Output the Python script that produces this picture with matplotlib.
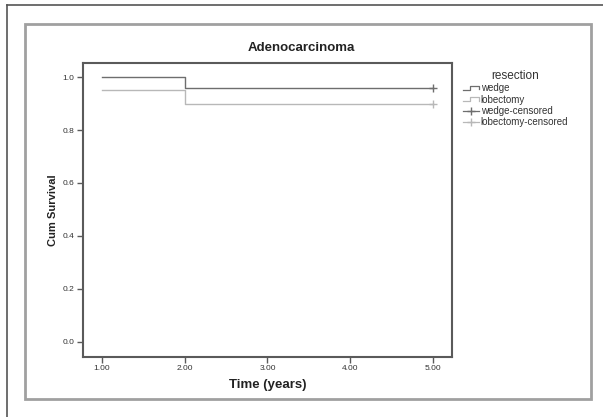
import matplotlib
matplotlib.use('Agg')
import matplotlib.pyplot as plt
from matplotlib.lines import Line2D
from matplotlib.patches import Rectangle
from matplotlib.legend_handler import HandlerBase

plt.rcParams['font.family'] = ['Liberation Sans', 'DejaVu Sans']

# Kaplan-Meier curves
times = [1.0, 2.0, 5.0]
wedge_surv = [1.0, 0.96, 0.96]
lobectomy_surv = [0.95, 0.90, 0.90]
censor_time = 5.0
wedge_censor = 0.96
lobectomy_censor = 0.90

xticks = [1, 2, 3, 4, 5]
xticklabels = ['1.00', '2.00', '3.00', '4.00', '5.00']
yticks = [0.0, 0.2, 0.4, 0.6, 0.8, 1.0]
yticklabels = ['0.0', '0.2', '0.4', '0.6', '0.8', '1.0']

c_wedge = '#6e6e6e'
c_lob = '#b8b8b8'
c_axis = '#5a5a5a'


class StepHandler(HandlerBase):
    # legend key shaped like a little survival step
    def create_artists(self, legend, orig_handle, xd, yd, width, height, fontsize, trans):
        xs = [xd, xd + width * 0.45, xd + width * 0.45, xd + width, xd + width]
        ys = [yd + height * 0.2, yd + height * 0.2, yd + height * 0.8, yd + height * 0.8, yd + height * 0.3]
        ln = Line2D(xs, ys, color=orig_handle.get_color(), lw=0.9, transform=trans)
        return [ln]


fig = plt.figure(figsize=(6.03, 4.17), dpi=100)

# outer frame (top + left only, like a crop)
fig.add_artist(Line2D([0.0116, 1.0], [0.988, 0.988], color='#555555', lw=1.2, transform=fig.transFigure))
fig.add_artist(Line2D([0.0116, 0.0116], [0.0, 0.988], color='#555555', lw=1.2, transform=fig.transFigure))
# inner gray box
fig.add_artist(Rectangle((0.0415, 0.0432), 0.9386, 0.899, fill=False, ec='#a0a0a0', lw=2.0,
                         transform=fig.transFigure))

ax = fig.add_axes([0.1376, 0.1439, 0.612, 0.705])

ax.step(times, wedge_surv, where='post', color=c_wedge, lw=1.0)
ax.step(times, lobectomy_surv, where='post', color=c_lob, lw=1.0)
ax.plot([censor_time], [wedge_censor], marker='+', ms=6, mew=1.0, color=c_wedge, ls='none')
ax.plot([censor_time], [lobectomy_censor], marker='+', ms=6, mew=1.0, color=c_lob, ls='none')

ax.set_xlim(0.77, 5.23)
ax.set_ylim(-0.057, 1.053)
ax.set_xticks(xticks)
ax.set_xticklabels(xticklabels)
ax.set_yticks(yticks)
ax.set_yticklabels(yticklabels)
ax.tick_params(labelsize=6, length=4, width=1.0, color=c_axis, labelcolor='#333333', pad=2)

for s in ax.spines.values():
    s.set_color(c_axis)
    s.set_linewidth(1.5)

fig.text(0.500, 0.885, 'Adenocarcinoma', ha='center', va='center', fontsize=9.5, fontweight='bold', color='#222222')
fig.text(0.088, 0.4965, 'Cum Survival', ha='center', va='center', rotation=90, fontsize=8,
         fontweight='bold', color='#222222')
fig.text(0.444, 0.077, 'Time (years)', ha='center', va='center', fontsize=9.5, fontweight='bold', color='#222222')

h_w = Line2D([], [], color=c_wedge)
h_l = Line2D([], [], color=c_lob)
h_wc = Line2D([], [], color=c_wedge, marker='+', ms=6, lw=0.9)
h_lc = Line2D([], [], color=c_lob, marker='+', ms=6, lw=0.9)
leg = fig.legend([h_w, h_l, h_wc, h_lc], ['wedge', 'lobectomy', 'wedge-censored', 'lobectomy-censored'],
                 handler_map={h_w: StepHandler(), h_l: StepHandler()},
                 title='resection', loc='upper left', bbox_to_anchor=(0.768, 0.833),
                 frameon=False, fontsize=7, title_fontsize=8.5, handlelength=1.6,
                 handletextpad=0.2, labelspacing=0.15, borderaxespad=0, borderpad=0)
leg.get_title().set_color('#333333')
for t in leg.get_texts():
    t.set_color('#333333')

fig.savefig('out.png', dpi=100)
